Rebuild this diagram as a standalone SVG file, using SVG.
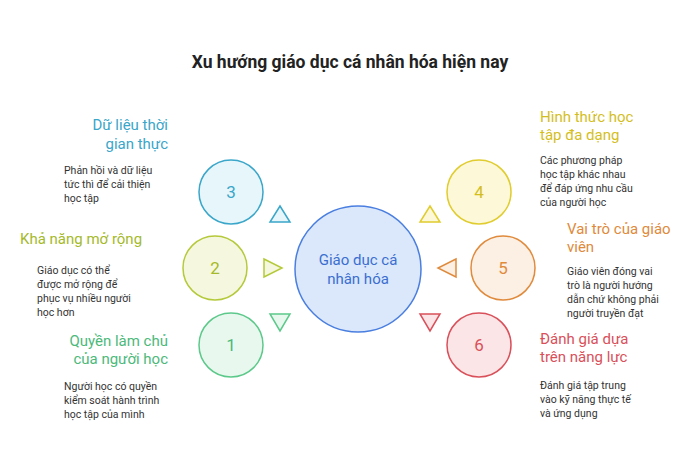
<svg xmlns="http://www.w3.org/2000/svg" width="700" height="458" viewBox="0 0 700 458">
<style>
text{font-family:Roboto,"Liberation Sans",sans-serif}
.t{font-size:15px}
.d{font-size:10.5px;fill:#333}
.n{font-size:17px;text-anchor:middle}
.c{stroke-width:1.5}
.tri{stroke-width:1.5}
</style>
<rect width="700" height="458" fill="#fff"/>
<text x="350" y="68" text-anchor="middle" font-size="17.5" font-weight="bold" fill="#222">Xu hướng giáo dục cá nhân hóa hiện nay</text>
<g id="connectors">
<polygon class="tri" points="280,206 290,222 270,222" fill="#e6f6fb" stroke="#3aa6c9"/>
<polygon class="tri" points="264,259 282,268 264,277" fill="#f5f8de" stroke="#b5c93a"/>
<polygon class="tri" points="270,314 290,314 280,331" fill="#e8f8ee" stroke="#5cc98a"/>
<polygon class="tri" points="430,206 440,222 420,222" fill="#fcf8d8" stroke="#e0cc2e"/>
<polygon class="tri" points="456,259 438,268 456,277" fill="#fcefe3" stroke="#e08a3c"/>
<polygon class="tri" points="420,314 440,314 430,331" fill="#fbe5e6" stroke="#d9505a"/>
</g>
<g id="center">
<circle class="c" cx="358" cy="269" r="63" fill="#dbe7fb" stroke="#4a7fe0"/>
<text x="358" y="265" text-anchor="middle" font-size="15" fill="#3a6fd0">Giáo dục cá</text>
<text x="358" y="284" text-anchor="middle" font-size="15" fill="#3a6fd0">nhân hóa</text>
</g>
<g id="n3">
<circle class="c" cx="231" cy="192" r="32" fill="#e6f6fb" stroke="#3aa6c9"/>
<text class="n" x="231" y="198" fill="#3aa6c9">3</text>
<text class="t" x="168" y="130" text-anchor="end" fill="#3aa6c9">Dữ liệu thời</text>
<text class="t" x="168" y="149" text-anchor="end" fill="#3aa6c9">gian thực</text>
<text class="d" x="64" y="174">Phản hồi và dữ liệu</text>
<text class="d" x="64" y="188">tức thì để cải thiện</text>
<text class="d" x="64" y="202">học tập</text>
</g>
<g id="n2">
<circle class="c" cx="215" cy="268" r="32" fill="#f5f8de" stroke="#b5c93a"/>
<text class="n" x="215" y="274" fill="#a5b92a">2</text>
<text class="t" x="20" y="244" fill="#a5b92a">Khả năng mở rộng</text>
<text class="d" x="37" y="274">Giáo dục có thể</text>
<text class="d" x="37" y="288">được mở rộng để</text>
<text class="d" x="37" y="302">phục vụ nhiều người</text>
<text class="d" x="37" y="316">học hơn</text>
</g>
<g id="n1">
<circle class="c" cx="231" cy="345" r="32" fill="#e8f8ee" stroke="#5cc98a"/>
<text class="n" x="231" y="351" fill="#4cb97a">1</text>
<text class="t" x="168" y="346" text-anchor="end" fill="#4cb97a">Quyền làm chủ</text>
<text class="t" x="168" y="364" text-anchor="end" fill="#4cb97a">của người học</text>
<text class="d" x="64" y="390">Người học có quyền</text>
<text class="d" x="64" y="404">kiểm soát hành trình</text>
<text class="d" x="64" y="418">học tập của mình</text>
</g>
<g id="n4">
<circle class="c" cx="479" cy="192" r="32" fill="#fcf8d8" stroke="#e0cc2e"/>
<text class="n" x="479" y="198" fill="#d4be1e">4</text>
<text class="t" x="540" y="122" fill="#d4be1e">Hình thức học</text>
<text class="t" x="540" y="140" fill="#d4be1e">tập đa dạng</text>
<text class="d" x="540" y="164">Các phương pháp</text>
<text class="d" x="540" y="178">học tập khác nhau</text>
<text class="d" x="540" y="192">để đáp ứng nhu cầu</text>
<text class="d" x="540" y="206">của người học</text>
</g>
<g id="n5">
<circle class="c" cx="503" cy="268" r="32" fill="#fcefe3" stroke="#e08a3c"/>
<text class="n" x="503" y="274" fill="#e08a3c">5</text>
<text class="t" x="567" y="234" fill="#e08a3c">Vai trò của giáo</text>
<text class="t" x="567" y="252" fill="#e08a3c">viên</text>
<text class="d" x="567" y="275">Giáo viên đóng vai</text>
<text class="d" x="567" y="289">trò là người hướng</text>
<text class="d" x="567" y="303">dẫn chứ không phải</text>
<text class="d" x="567" y="317">người truyền đạt</text>
</g>
<g id="n6">
<circle class="c" cx="479" cy="345" r="32" fill="#fbe5e6" stroke="#d9505a"/>
<text class="n" x="479" y="351" fill="#d9505a">6</text>
<text class="t" x="540" y="344" fill="#d9505a">Đánh giá dựa</text>
<text class="t" x="540" y="362" fill="#d9505a">trên năng lực</text>
<text class="d" x="540" y="389">Đánh giá tập trung</text>
<text class="d" x="540" y="403">vào kỹ năng thực tế</text>
<text class="d" x="540" y="417">và ứng dụng</text>
</g>
</svg>
